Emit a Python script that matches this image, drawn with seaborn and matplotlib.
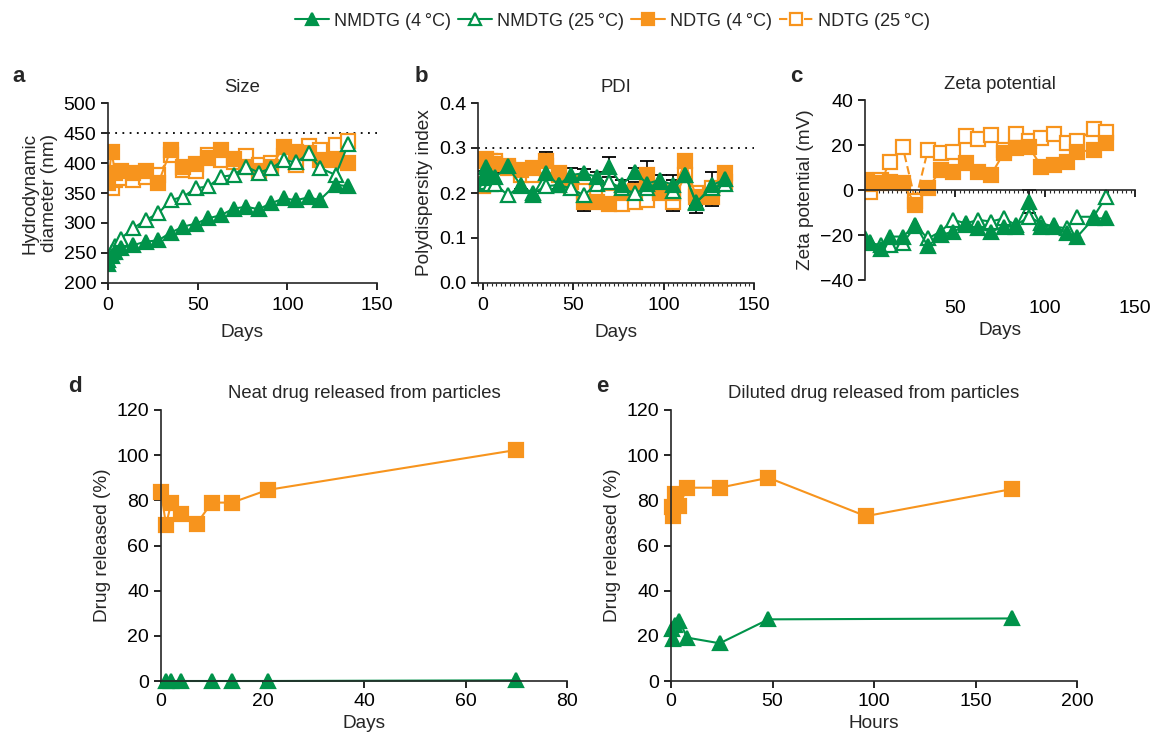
import numpy as np
import pandas as pd
import matplotlib
matplotlib.use('Agg')
import matplotlib.pyplot as plt
from matplotlib.ticker import MultipleLocator, FormatStrFormatter
import seaborn as sns

sns.set_style('ticks')
plt.rcParams['font.family'] = ['Liberation Sans', 'DejaVu Sans']
plt.rcParams['font.size'] = 13.5
plt.rcParams['axes.linewidth'] = 1.2
plt.rcParams['xtick.major.width'] = 1.2
plt.rcParams['ytick.major.width'] = 1.2
plt.rcParams['xtick.major.size'] = 5
plt.rcParams['ytick.major.size'] = 5

GREEN = '#00934a'
ORANGE = '#f7941d'
TICK_FS = 14
LAB_FS = 13.7
TIT_FS = 13.3

# ---------------- data ----------------
series_labels = ['NMDTG (4\u2009°C)', 'NMDTG (25\u2009°C)', 'NDTG (4\u2009°C)', 'NDTG (25\u2009°C)']

days = [0, 2, 4, 7, 14, 21, 28, 35, 42, 49, 56, 63, 70, 77, 84, 91, 98, 105, 112, 118, 127, 134]
size_nmdtg4 = [232, 245, 252, 258, 263, 269, 271, 284, 294, 299, 308, 313, 324, 327, 323, 333, 341, 338, 343, 338, 364, 361]
size_nmdtg25 = [238, 252, 262, 274, 291, 305, 316, 338, 344, 358, 361, 377, 380, 394, 384, 391, 405, 401, 416, 392, 380, 432]
size_ndtg4 = [366, 419, 383, 386, 384, 386, 366, 422, 394, 398, 408, 422, 406, 394, 386, 394, 427, 419, 416, 405, 405, 400]
size_ndtg25 = [366, 358, 372, 375, 372, 377, 380, 413, 388, 386, 413, 405, 402, 411, 397, 400, 411, 397, 429, 422, 430, 436]

pdi_nmdtg4 = [0.233, 0.257, 0.240, 0.235, 0.259, 0.218, 0.195, 0.244, 0.218, 0.240, 0.244, 0.236, 0.257, 0.218, 0.246, 0.221, 0.229, 0.218, 0.240, 0.177, 0.218, 0.230]
pdi_nmdtg25 = [0.220, 0.225, 0.220, 0.220, 0.195, 0.215, 0.200, 0.215, 0.218, 0.210, 0.195, 0.220, 0.225, 0.210, 0.200, 0.210, 0.225, 0.205, 0.240, 0.180, 0.210, 0.220]
pdi_ndtg4 = [0.220, 0.270, 0.265, 0.265, 0.255, 0.250, 0.255, 0.272, 0.245, 0.225, 0.180, 0.180, 0.175, 0.200, 0.205, 0.240, 0.205, 0.200, 0.270, 0.190, 0.190, 0.245]
pdi_ndtg25 = [0.215, 0.275, 0.270, 0.270, 0.260, 0.240, 0.240, 0.260, 0.240, 0.215, 0.205, 0.200, 0.190, 0.175, 0.180, 0.185, 0.200, 0.180, 0.240, 0.200, 0.210, 0.225]
pdi_err_ndtg4 = [0.015, 0.010, 0.010, 0.010, 0.010, 0.010, 0.010, 0.018, 0.010, 0.012, 0.020, 0.012, 0.010, 0.010, 0.020, 0.030, 0.010, 0.040, 0.013, 0.020, 0.020, 0.010]
pdi_err_nmdtg4 = [0.015, 0.010, 0.010, 0.010, 0.010, 0.010, 0.010, 0.010, 0.010, 0.015, 0.010, 0.010, 0.022, 0.010, 0.010, 0.010, 0.010, 0.010, 0.012, 0.022, 0.028, 0.010]

zeta_days = [0, 3, 9, 14, 21, 28, 35, 42, 49, 56, 63, 70, 77, 84, 91, 98, 105, 112, 118, 127, 134]
zeta_nmdtg4 = [-21.5, -23.0, -26.0, -20.7, -20.7, -15.6, -25.0, -20.0, -18.5, -15.6, -17.0, -18.5, -16.3, -16.3, -5.2, -16.3, -15.6, -19.3, -20.7, -12.6, -12.6]
zeta_nmdtg25 = [-23.0, -23.7, -24.4, -24.4, -23.7, -16.0, -21.5, -18.5, -13.3, -14.8, -13.3, -14.0, -12.6, -15.6, -11.9, -14.8, -16.3, -17.0, -11.9, -11.9, -3.0]
zeta_ndtg4 = [3.7, 2.5, 3.0, 3.5, 3.0, -6.5, 0.7, 8.9, 8.1, 11.9, 8.1, 6.7, 16.3, 18.5, 19.3, 10.4, 11.1, 12.6, 17.0, 17.8, 20.7]
zeta_ndtg25 = [4.4, -0.7, 4.4, 12.6, 19.0, -5.0, 18.0, 16.5, 17.0, 24.0, 22.5, 24.4, 18.0, 25.0, 22.0, 23.0, 25.0, 21.0, 22.0, 27.0, 26.0]

neat_days_ndtg = [0, 1, 2, 4, 7, 10, 14, 21, 70]
neat_ndtg = [83.8, 69.0, 79.0, 74.0, 69.5, 79.0, 79.0, 84.6, 102.3]
neat_days_nmdtg = [1, 2, 4, 10, 14, 21, 70]
neat_nmdtg = [0.0, 0.0, 0.0, 0.0, 0.0, 0.0, 0.3]

dil_hours_ndtg = [0.5, 1, 2, 4, 8, 24, 48, 96, 168]
dil_ndtg = [77.0, 73.0, 83.0, 77.5, 85.6, 85.6, 90.0, 73.0, 85.0]
dil_hours_nmdtg = [0.5, 1, 2, 4, 8, 24, 48, 168]
dil_nmdtg = [22.9, 18.5, 24.8, 26.7, 19.2, 16.7, 27.3, 27.7]

# ---------------- styles ----------------
styles = [
    dict(color=GREEN, marker='^', markerfacecolor=GREEN, markeredgecolor=GREEN, linestyle='-'),
    dict(color=GREEN, marker='^', markerfacecolor='white', markeredgecolor=GREEN, linestyle='-'),
    dict(color=ORANGE, marker='s', markerfacecolor=ORANGE, markeredgecolor=ORANGE, linestyle='-'),
    dict(color=ORANGE, marker='s', markerfacecolor='white', markeredgecolor=ORANGE, linestyle=(0, (4, 2))),
]


def draw(ax, x, y, idx, label=None, ms=None):
    st = dict(styles[idx])
    if ms is None:
        ms = 10 if st['marker'] == '^' else 9.5
    sns.lineplot(x=x, y=y, ax=ax, sort=False, estimator=None, label=label,
                 color=st['color'], marker=st['marker'], markersize=ms,
                 markerfacecolor=st['markerfacecolor'], markeredgecolor=st['markeredgecolor'],
                 markeredgewidth=1.6, linestyle=st['linestyle'], linewidth=1.5, legend=False)


W, H = 1151, 733
fig = plt.figure(figsize=(W / 100, H / 100), dpi=100)


def px_axes(x0, x1, ytop, ybot):
    return fig.add_axes([x0 / W, 1 - ybot / H, (x1 - x0) / W, (ybot - ytop) / H])


axA = px_axes(108, 377, 103, 283)
axB = px_axes(478, 754, 103, 283)
axC = px_axes(865, 1135, 100, 280)
axD = px_axes(161, 567, 410, 681)
axE = px_axes(671, 1077, 410, 681)

for ax in [axA, axB, axC, axD, axE]:
    sns.despine(ax=ax)
    ax.tick_params(labelsize=TICK_FS, colors='black', direction='out')

# ---- panel a ----
size_sets = [size_nmdtg4, size_nmdtg25, size_ndtg4, size_ndtg25]
for i in [3, 2, 1, 0]:
    draw(axA, days, size_sets[i], i, label=series_labels[i])
axA.axhline(450, color='black', linestyle=(0, (1, 3)), linewidth=1.3, zorder=0)
axA.set_xlim(0, 150)
axA.set_ylim(200, 500)
axA.set_xticks([0, 50, 100, 150])
axA.set_yticks(range(200, 501, 50))
axA.tick_params(axis='x', pad=5)
axA.set_xlabel('Days', fontsize=LAB_FS, labelpad=7)
axA.set_ylabel('Hydrodynamic\ndiameter (nm)', fontsize=LAB_FS, labelpad=4)
axA.set_title('Size', fontsize=TIT_FS, pad=8)

# ---- panel b ----
pdi_sets = [pdi_nmdtg4, pdi_nmdtg25, pdi_ndtg4, pdi_ndtg25]
axB.errorbar(days, pdi_ndtg4, yerr=pdi_err_ndtg4, fmt='none', ecolor='black', elinewidth=1.2, capsize=5, capthick=1.3, zorder=1)
axB.errorbar(days, pdi_nmdtg4, yerr=pdi_err_nmdtg4, fmt='none', ecolor='black', elinewidth=1.2, capsize=5, capthick=1.3, zorder=1)
for i in [3, 2, 1, 0]:
    draw(axB, days, pdi_sets[i], i)
axB.axhline(0.3, color='black', linestyle=(0, (1, 3)), linewidth=1.3, zorder=0)
axB.set_xlim(-2.5, 150)
axB.set_ylim(0, 0.4)
axB.set_xticks([0, 50, 100, 150])
axB.set_yticks([0.0, 0.1, 0.2, 0.3, 0.4])
axB.yaxis.set_major_formatter(FormatStrFormatter('%.1f'))
axB.xaxis.set_minor_locator(MultipleLocator(2.5))
axB.tick_params(axis='x', which='minor', length=2, width=0.8)
axB.tick_params(axis='x', which='major', pad=5)
axB.set_xlabel('Days', fontsize=LAB_FS, labelpad=7)
axB.set_ylabel('Polydispersity index', fontsize=LAB_FS)
axB.set_title('PDI', fontsize=TIT_FS, pad=8)

# ---- panel c ----
zeta_sets = [zeta_nmdtg4, zeta_nmdtg25, zeta_ndtg4, zeta_ndtg25]
axC.errorbar([91], [-5.2], yerr=[5.0], fmt='none', ecolor='black', elinewidth=1.2, capsize=5, capthick=1.3, zorder=1)
for i in [3, 2, 1, 0]:
    draw(axC, zeta_days, zeta_sets[i], i)
axC.spines['bottom'].set_position(('data', 0))
axC.set_xlim(0, 150)
axC.set_ylim(-40, 40)
axC.set_xticks([50, 100, 150])
axC.set_yticks([-40, -20, 0, 20, 40])
axC.xaxis.set_minor_locator(MultipleLocator(2.5))
axC.tick_params(axis='x', which='minor', length=2, width=0.8)
axC.tick_params(axis='x', which='major', pad=74)
axC.set_xlabel('Days', fontsize=LAB_FS, labelpad=4)
axC.set_ylabel('Zeta potential (mV)', fontsize=LAB_FS)
axC.set_title('Zeta potential', fontsize=TIT_FS, pad=8)

# ---- panel d ----
draw(axD, neat_days_nmdtg, neat_nmdtg, 0, ms=10)
draw(axD, neat_days_ndtg, neat_ndtg, 2, ms=10)
for l in axD.lines:
    l.set_clip_on(False)
axD.set_xlim(0, 80)
axD.set_ylim(0, 120)
axD.set_xticks(range(0, 81, 20))
axD.set_yticks(range(0, 121, 20))
axD.set_xlabel('Days', fontsize=LAB_FS, labelpad=4)
axD.set_ylabel('Drug released (%)', fontsize=LAB_FS)
axD.set_title('Neat drug released from particles', fontsize=TIT_FS, pad=9)

# ---- panel e ----
draw(axE, dil_hours_nmdtg, dil_nmdtg, 0, ms=10)
draw(axE, dil_hours_ndtg, dil_ndtg, 2, ms=10)
for l in axE.lines:
    l.set_clip_on(False)
axE.set_xlim(0, 200)
axE.set_ylim(0, 120)
axE.set_xticks(range(0, 201, 50))
axE.set_yticks(range(0, 121, 20))
axE.set_xlabel('Hours', fontsize=LAB_FS, labelpad=4)
axE.set_ylabel('Drug released (%)', fontsize=LAB_FS)
axE.set_title('Diluted drug released from particles', fontsize=TIT_FS, pad=9)

# panel letters
for txt, (x, y) in zip('abcde', [(12, 82), (415, 82), (790, 82), (68, 392), (596, 392)]):
    fig.text(x / W, 1 - y / H, txt, fontsize=16, fontweight='bold', ha='left', va='baseline')

# legend
handles, labels = axA.get_legend_handles_labels()
order = [labels.index(l) for l in series_labels]
fig.legend([handles[k] for k in order], [labels[k] for k in order],
           loc='upper center', bbox_to_anchor=(0.532, 1.005), ncol=4, frameon=False,
           fontsize=13, handlelength=1.9, handletextpad=0.25, columnspacing=0.4,
           markerscale=0.85)

fig.savefig('out.png', dpi=100)
